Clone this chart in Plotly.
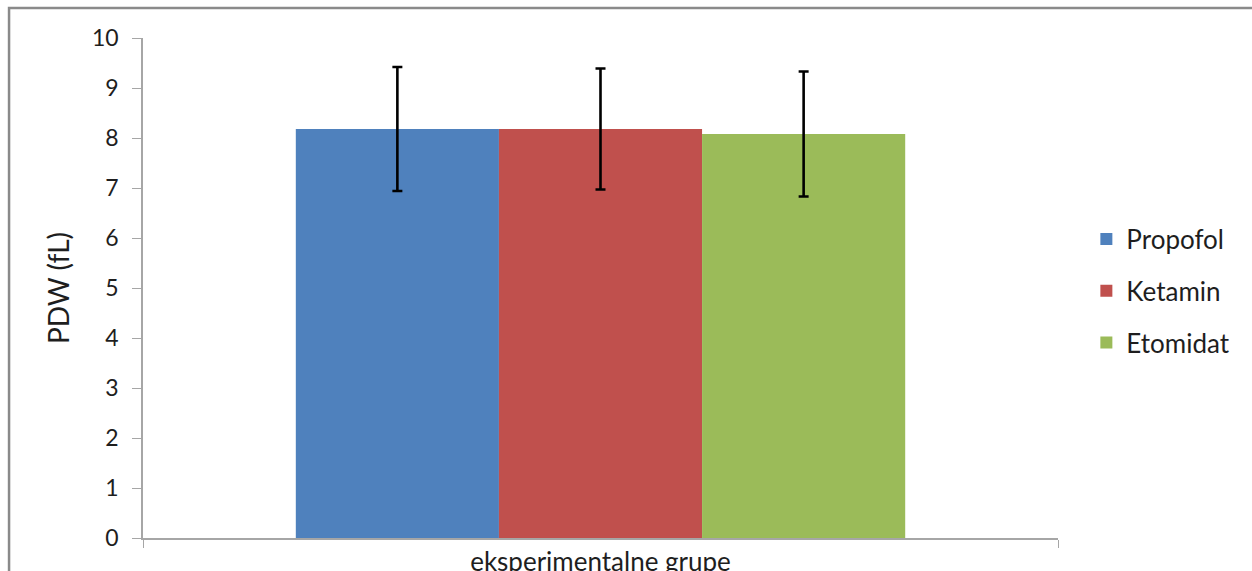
import plotly.graph_objects as go

categories = ["eksperimentalne grupe"]
groups = ["Propofol", "Ketamin", "Etomidat"]
means = [8.18, 8.18, 8.08]
errors = [1.24, 1.21, 1.25]
colors = ["#4f81bd", "#c0504d", "#9bbb59"]

FONT = "Lato"

fig = go.Figure()
for i, (g, m, e, c) in enumerate(zip(groups, means, errors, colors)):
    fig.add_trace(go.Bar(
        x=categories, y=[m], name=g, marker=dict(color=c, line=dict(width=0)),
        legendgroup=g,
        error_y=dict(type="data", array=[e], visible=True, color="#000000",
                     thickness=2.6, width=5),
    ))

fig.update_layout(
    width=1252, height=571,
    margin=dict(l=143, r=194, t=38, b=33, autoexpand=False),
    paper_bgcolor="white", plot_bgcolor="white",
    barmode="group", bargap=0.334, bargroupgap=0,
    font=dict(family=FONT, color="#1e1e1e"),
    showlegend=True,
    legend=dict(x=1.031, y=0.494, xanchor="left", yanchor="middle",
                font=dict(family=FONT, size=26, color="#1e1e1e"),
                tracegroupgap=15, traceorder="grouped",
                bgcolor="rgba(0,0,0,0)", itemwidth=30),
    xaxis=dict(showline=True, linecolor="#a6a6a6", linewidth=1.5,
               ticks="outside", tickson="boundaries", ticklen=8, tickcolor="#a6a6a6",
               tickfont=dict(family=FONT, size=26, color="#1e1e1e"),
               range=[-0.5, 0.5], showgrid=False, zeroline=False),
    yaxis=dict(range=[0, 10], dtick=1, showline=True, linecolor="#a6a6a6", linewidth=1.5,
               ticks="outside", ticklen=9, tickcolor="#a6a6a6", ticklabelstandoff=9,
               tickfont=dict(family=FONT, size=23, color="#1e1e1e"),
               showgrid=False, zeroline=False,
               title=dict(text="PDW (fL)", font=dict(family=FONT, size=28, color="#1e1e1e"),
                          standoff=14)),
    shapes=[dict(type="rect", xref="paper", yref="paper",
                 x0=-0.1464, x1=1.4, y0=-0.2, y1=1.06,
                 line=dict(color="#8a8a8a", width=2.5), fillcolor="rgba(0,0,0,0)",
                 layer="below")],
)

fig.write_html("out.html", config={"displayModeBar": False},
               post_script="document.body.style.margin='0';document.body.style.overflow='hidden';")
